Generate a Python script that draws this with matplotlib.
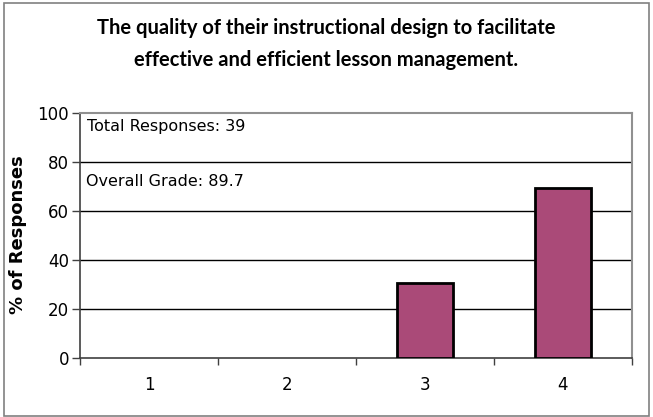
import matplotlib
matplotlib.use("Agg")
import matplotlib.pyplot as plt
from matplotlib.patches import Rectangle

categories = ["1", "2", "3", "4"]
values = [0.0, 0.0, 30.8, 69.2]
yticks = [0, 20, 40, 60, 80, 100]
title = "The quality of their instructional design to facilitate\neffective and efficient lesson management."
ylabel = "% of Responses"
notes = ["Total Responses: 39", "Overall Grade: 89.7"]

W, H = 653, 417
fig = plt.figure(figsize=(W/100, H/100), dpi=100)
fig.patch.set_facecolor("white")
fig.add_artist(Rectangle((4/W, 1/H), (W-8)/W, (H-4)/H, transform=fig.transFigure,
                         fill=False, edgecolor="#808080", linewidth=1.2))

ax = fig.add_axes([80/W, (417-358)/H, 552/W, 245/H])
x = list(range(len(categories)))
edges = ["black" if v > 0 else "none" for v in values]
ax.bar(x, values, width=0.4, color="#AA4A78", edgecolor=edges, linewidth=2, zorder=3)
ax.set_xlim(-0.5, len(categories) - 0.5)
ax.set_ylim(0, 100)
ax.set_yticks(yticks)
ax.set_yticklabels([str(v) for v in yticks], fontsize=12)
ax.set_xticks(x)
ax.set_xticklabels(categories, fontsize=12)
ax.tick_params(axis="x", length=0, pad=13)
ax.set_xticks([i + 0.5 for i in range(-1, len(categories))], minor=True)
ax.tick_params(axis="x", which="minor", length=5, width=1, color="#404040", direction="out")
ax.tick_params(axis="y", length=6, width=1, color="#404040", direction="out", pad=2)
for v in yticks[1:-1]:
    ax.axhline(v, color="black", linewidth=1, zorder=1)
for s in ["top", "right"]:
    ax.spines[s].set_color("#909090")
    ax.spines[s].set_linewidth(1.5)
ax.spines["left"].set_color("#404040")
ax.spines["bottom"].set_color("#404040")
ax.spines["left"].set_linewidth(1.2)
ax.spines["bottom"].set_linewidth(1.2)

ax.text(0.012, 0.945, notes[0], transform=ax.transAxes, fontsize=11.5, va="center", ha="left")
ax.text(0.010, 0.72, notes[1], transform=ax.transAxes, fontsize=11.5, va="center", ha="left")

fig.text(326/W, 1 - 44/H, title, ha="center", va="center", fontsize=14.5, fontweight="bold",
         family="Lato", linespacing=1.78)
fig.text(18/W, 1 - 235/H, ylabel, rotation=90, ha="center", va="center", fontsize=13,
         fontweight="bold")

fig.savefig("out.png", dpi=100)
